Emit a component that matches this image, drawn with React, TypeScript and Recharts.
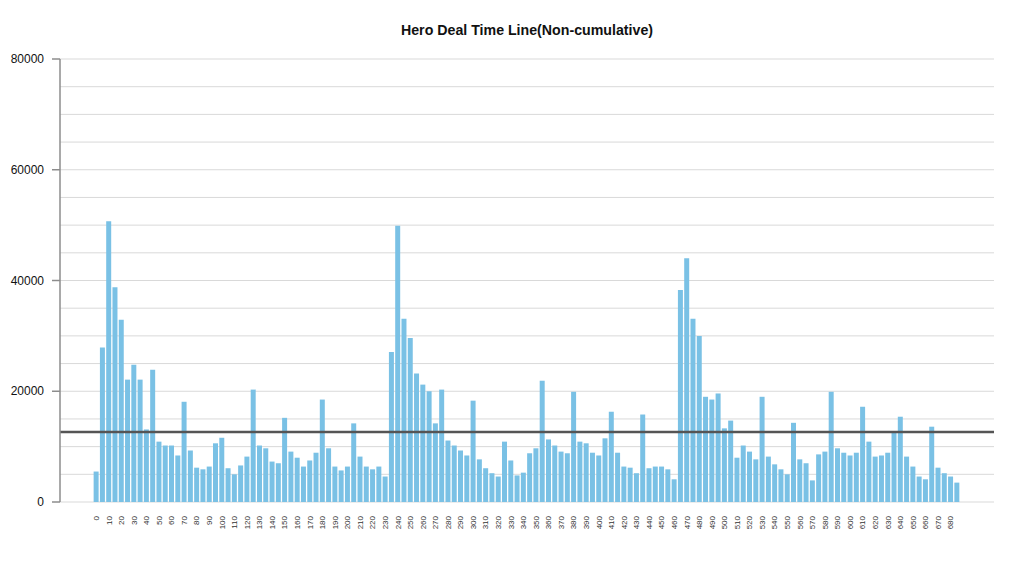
import React from "react";
import { BarChart, Bar, XAxis, YAxis, CartesianGrid, ReferenceLine } from "recharts";

const TITLE = "Hero Deal Time Line(Non-cumulative)";

const CATEGORIES: number[] = [
  0, 5, 10, 15, 20, 25, 30, 35, 40, 45, 50, 55, 60, 65, 70, 75, 80, 85, 90, 95,
  100, 105, 110, 115, 120, 125, 130, 135, 140, 145, 150, 155, 160, 165, 170, 175, 180, 185, 190, 195,
  200, 205, 210, 215, 220, 225, 230, 235, 240, 245, 250, 255, 260, 265, 270, 275, 280, 285, 290, 295,
  300, 305, 310, 315, 320, 325, 330, 335, 340, 345, 350, 355, 360, 365, 370, 375, 380, 385, 390, 395,
  400, 405, 410, 415, 420, 425, 430, 435, 440, 445, 450, 455, 460, 465, 470, 475, 480, 485, 490, 495,
  500, 505, 510, 515, 520, 525, 530, 535, 540, 545, 550, 555, 560, 565, 570, 575, 580, 585, 590, 595,
  600, 605, 610, 615, 620, 625, 630, 635, 640, 645, 650, 655, 660, 665, 670, 675, 680, 685,
];

const DEALS: number[] = [
  5500, 27900, 50700, 38800, 32900, 22100, 24800, 22100, 13100, 23900,
  10900, 10200, 10200, 8400, 18100, 9300, 6200, 5900, 6400, 10600,
  11600, 6100, 5000, 6600, 8200, 20300, 10200, 9700, 7300, 7000,
  15200, 9100, 8000, 6400, 7500, 8900, 18500, 9700, 6400, 5700,
  6400, 14200, 8200, 6400, 5900, 6400, 4600, 27100, 49900, 33100,
  29600, 23200, 21200, 20000, 14200, 20300, 11100, 10200, 9300, 8400,
  18300, 7700, 6100, 5200, 4600, 10900, 7500, 4800, 5300, 8800,
  9700, 21900, 11300, 10200, 9100, 8800, 19900, 10900, 10600, 8900,
  8400, 11500, 16300, 8900, 6400, 6200, 5200, 15800, 6100, 6400,
  6400, 5900, 4100, 38300, 44000, 33100, 30000, 19000, 18500, 19600,
  13300, 14700, 8000, 10200, 9100, 7700, 19000, 8200, 6800, 5900,
  5000, 14300, 7700, 7000, 3900, 8600, 9100, 19900, 9700, 8900,
  8400, 8900, 17200, 10900, 8200, 8400, 8900, 12500, 15400, 8200,
  6400, 4600, 4100, 13600, 6200, 5200, 4600, 3500,
];

const MEAN_LINE = 12650;
const Y_TICKS: number[] = [0, 5000, 10000, 15000, 20000, 25000, 30000, 35000, 40000, 45000, 50000, 55000, 60000, 65000, 70000, 75000, 80000];
const Y_LABELED: number[] = [0, 20000, 40000, 60000, 80000];

const data = CATEGORIES.map((c, i) => ({ x: c, deals: DEALS[i] }));

const FONT = "'Liberation Sans', Arial, sans-serif";

const YTick = (props: any) => {
  const { x, y, payload } = props;
  if (!Y_LABELED.includes(payload.value)) return null;
  return (
    <g>
      <line x1={x - 8} x2={x} y1={y} y2={y} stroke="#8c8c8c" strokeWidth={1.5} />
      <text x={x - 16} y={y} dy="0.35em" textAnchor="end" fontSize={12} fill="#111" fontFamily={FONT}>
        {payload.value}
      </text>
    </g>
  );
};

const XTick = (props: any) => {
  const { x, y, payload } = props;
  const ty = y + 14;
  return (
    <text
      x={x}
      y={ty}
      dy="0.35em"
      textAnchor="end"
      fontSize={8}
      fill="#333"
      fontFamily={FONT}
      transform={`rotate(-90, ${x}, ${ty})`}
    >
      {payload.value}
    </text>
  );
};

export default function App() {
  return (
    <div style={{ position: "relative", width: 1016, height: 568, fontFamily: FONT }}>
      <div
        style={{
          position: "absolute",
          left: 0,
          top: 14,
          width: 1038,
          textAlign: "center",
          fontSize: 14.2,
          lineHeight: "16px",
          fontWeight: "bold",
          color: "#111",
        }}
      >
        {TITLE}
      </div>
      <BarChart
        width={1016}
        height={568}
        data={data}
        margin={{ top: 51, right: 30, bottom: 34, left: 0 }}
        barCategoryGap="10%"
      >
        <CartesianGrid vertical={false} stroke="#d9d9d9" strokeWidth={1} />
        <XAxis
          dataKey="x"
          interval={1}
          axisLine={false}
          tickLine={false}
          tickSize={0}
          tickMargin={0}
          height={40}
          padding={{ left: 33, right: 34 }}
          tick={<XTick />}
        />
        <YAxis
          width={52}
          domain={[0, 80000]}
          ticks={Y_TICKS}
          interval={0}
          axisLine={{ stroke: "#8c8c8c", strokeWidth: 1.5 }}
          tickLine={false}
          tickSize={0}
          tickMargin={0}
          tick={<YTick />}
        />
        <Bar dataKey="deals" fill="#7ac1e5" isAnimationActive={false} />
        <ReferenceLine y={MEAN_LINE} stroke="#555555" strokeWidth={2.5} />
      </BarChart>
    </div>
  );
}
